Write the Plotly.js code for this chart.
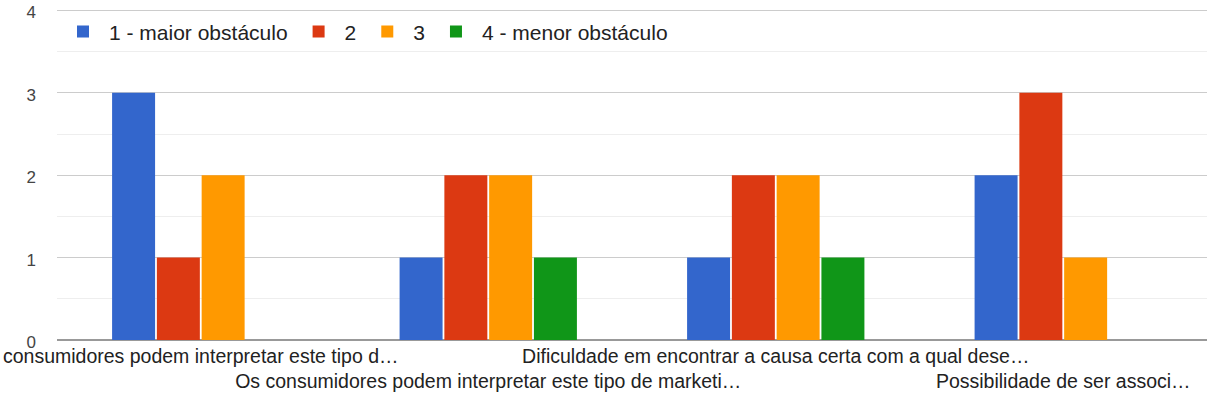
<!DOCTYPE html>
<html>
<head>
<meta charset="utf-8">
<script src="https://cdn.plot.ly/plotly-3.0.1.min.js"></script>
<style>
  html, body { margin: 0; padding: 0; background: #fff; }
  #chart { width: 1211px; height: 393px; }
</style>
</head>
<body>
<div id="chart"></div>
<script>
const categories = ["c1", "c2", "c3", "c4"];
const tickLabels = [
  "consumidores podem interpretar este tipo d\u2026",
  "<br>Os consumidores podem interpretar este tipo de marketi\u2026",
  "Dificuldade em encontrar a causa certa com a qual dese\u2026",
  "<br>Possibilidade de ser associ\u2026"
];
const seriesNames = ["1 - maior obst\u00e1culo", "2", "3", "4 - menor obst\u00e1culo"];
const seriesColors = ["#3366cc", "#dc3912", "#ff9900", "#109618"];
const s1 = [3, 1, 1, 2];
const s2 = [1, 2, 2, 3];
const s3 = [2, 2, 2, 1];
const s4 = [0, 1, 1, 0];
const yTicks = [0, 1, 2, 3, 4];

const seriesValues = [s1, s2, s3, s4];
const traces = seriesValues.map((vals, i) => ({
  type: "bar",
  name: seriesNames[i],
  x: categories,
  y: vals,
  marker: { color: seriesColors[i], line: { width: 0 } },
  hoverinfo: "skip"
}));

const layout = {
  width: 1211,
  height: 393,
  margin: { l: 57, r: 4, t: 8, b: 53, pad: 0 },
  paper_bgcolor: "#ffffff",
  plot_bgcolor: "#ffffff",
  barmode: "group",
  bargap: 0.377,
  bargroupgap: 0.04,
  font: { family: "Liberation Sans, Arial, sans-serif", color: "#222222" },
  showlegend: true,
  legend: {
    orientation: "h",
    x: 0,
    xanchor: "left",
    y: 0.928,
    yanchor: "middle",
    bgcolor: "rgba(0,0,0,0)",
    font: { size: 21, color: "#222222" },
    itemwidth: 42,
    traceorder: "normal"
  },
  xaxis: {
    type: "category",
    tickmode: "array",
    tickvals: categories,
    ticktext: tickLabels,
    tickangle: 0,
    showgrid: false,
    zeroline: false,
    showline: false,
    ticks: "",
    ticklabelstandoff: 2,
    automargin: false,
    tickfont: { size: 19.5, color: "#222222" }
  },
  yaxis: {
    range: [0, 4.03],
    tickmode: "array",
    tickvals: yTicks,
    ticktext: yTicks.map(String),
    showgrid: true,
    gridcolor: "#cccccc",
    gridwidth: 1,
    zeroline: true,
    zerolinecolor: "#999999",
    zerolinewidth: 2,
    ticks: "",
    ticklabelstandoff: 20,
    ticklabelshift: 2,
    ticklabeloverflow: "allow",
    automargin: false,
    tickfont: { size: 17, color: "#444444" },
    minor: { dtick: 0.5, showgrid: true, gridcolor: "#eeeeee", gridwidth: 1 }
  }
};

Plotly.newPlot("chart", traces, layout, { staticPlot: true, displayModeBar: false });
</script>
</body>
</html>
